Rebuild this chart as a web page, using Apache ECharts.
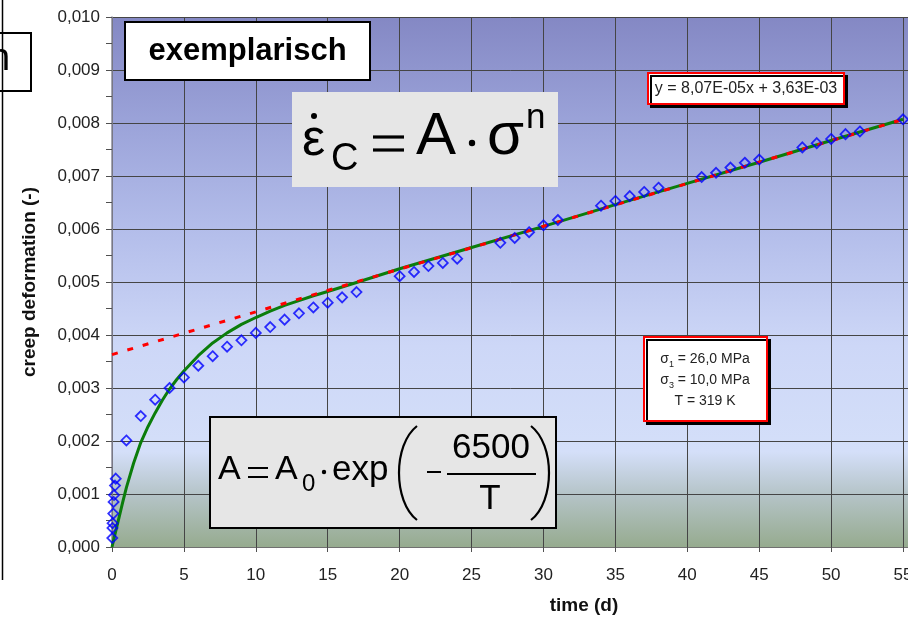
<!DOCTYPE html>
<html>
<head>
<meta charset="utf-8">
<script src="https://cdn.jsdelivr.net/npm/echarts@6/dist/echarts.min.js"></script>
<style>
  html, body { margin: 0; padding: 0; background: #ffffff; }
  #chart { width: 922px; height: 622px; }
</style>
</head>
<body>
<div id="chart"></div>
<script>
// Measured creep deformation over time (days)
const timeDays = [0.02, 0.03, 0.04, 0.09, 0.11, 0.14, 0.21, 0.26,
  1, 2, 3, 4, 5, 6, 7, 8, 9, 10, 11, 12, 13, 14, 15, 16, 17,
  20, 21, 22, 23, 24, 27, 28, 29, 30, 31, 34, 35, 36, 37, 38,
  41, 42, 43, 44, 45, 48, 49, 50, 51, 52, 55];
const creepStrain = [0.00017, 0.00036, 0.00045, 0.00063, 0.00085, 0.00098, 0.00116, 0.00129,
  0.00201, 0.00247, 0.00278, 0.00300, 0.00320, 0.00342, 0.00360, 0.00378, 0.00390, 0.00404,
  0.00415, 0.00429, 0.00441, 0.00452, 0.00461, 0.00471, 0.00481,
  0.00511, 0.00519, 0.00530, 0.00536, 0.00544, 0.00574, 0.00583, 0.00594, 0.00607, 0.00617,
  0.00644, 0.00653, 0.00662, 0.00670, 0.00678, 0.00698, 0.00706, 0.00716, 0.00725, 0.00731,
  0.00754, 0.00762, 0.00770, 0.00779, 0.00784, 0.00807];

// Model curve (green)
const modelTime = [0, 0.25, 0.5, 0.75, 1, 1.5, 2, 2.5, 3, 3.5, 4, 4.5, 5, 6, 7, 8, 9, 10, 11, 12,
  13, 14, 15, 17, 20, 25, 30, 35, 40, 45, 50, 55];
const modelStrain = [0, 0.00029, 0.00057, 0.00085, 0.00112, 0.00158, 0.00197, 0.00227, 0.00253,
  0.00277, 0.00298, 0.00316, 0.00332, 0.00361, 0.00385, 0.00404, 0.00420, 0.00433, 0.00445,
  0.00456, 0.00465, 0.00474, 0.00482, 0.00499, 0.00525, 0.00565, 0.00605, 0.00646, 0.00686,
  0.00726, 0.00767, 0.00807];

// Linear trend of the secondary creep stage: y = 8,07E-05x + 3,63E-03
const trendSlope = 8.07e-5;
const trendIntercept = 3.63e-3;
const trendTime = [0, 55];

// Axis settings
const xTickStep = 5;
const yTickStep = 0.001;
const yMax = 0.010;

const FONT = '"Liberation Sans", Arial, Helvetica, sans-serif';

const chart = echarts.init(document.getElementById('chart'), null, { renderer: 'canvas' });

function txt(x, y, text, size, extra) {
  const st = Object.assign({
    text: text,
    fontSize: size,
    fontFamily: FONT,
    fill: '#000',
    align: 'left', textAlign: 'left',
    verticalAlign: 'middle', textVerticalAlign: 'middle'
  }, extra || {});
  return { type: 'text', x: x, y: y, z: 100, style: st };
}
function ln(x1, y1, x2, y2, w, color) {
  return { type: 'line', z: 100, shape: { x1: x1, y1: y1, x2: x2, y2: y2 },
    style: { stroke: color || '#000', lineWidth: w } };
}
function box(x, y, w, h, style) {
  return { type: 'rect', z: 90, shape: { x: x, y: y, width: w, height: h }, style: style };
}
function dot(cx, cy, r) {
  return { type: 'circle', z: 100, shape: { cx: cx, cy: cy, r: r }, style: { fill: '#000' } };
}
function paren(x1, y1, x2, y2, cpx) {
  return { type: 'bezierCurve', z: 100,
    shape: { x1: x1, y1: y1, x2: x2, y2: y2, cpx1: cpx, cpy1: y1 + (y2 - y1) * 0.2, cpx2: cpx, cpy2: y1 + (y2 - y1) * 0.8 },
    style: { stroke: '#000', lineWidth: 2.2, fill: null } };
}

const plotBg = new echarts.graphic.LinearGradient(0, 0, 0, 1, [
  { offset: 0, color: '#8488c4' },
  { offset: 0.2, color: '#9ba3d9' },
  { offset: 0.4, color: '#b3bdea' },
  { offset: 0.62, color: '#cdd7f7' },
  { offset: 0.82, color: '#d4dff9' },
  { offset: 0.9, color: '#b5c4c8' },
  { offset: 1, color: '#96ab8f' }
]);

const graphics = [
  // frame line and cut-off box on the far left
  ln(2.5, 0, 2.5, 580, 1.5, '#000'),
  box(-3, 33, 34, 58, { fill: '#fff', stroke: '#000', lineWidth: 2 }),
  txt(-11, 60, 'n', 38),

  // "exemplarisch" label
  box(125, 22, 245, 58, { fill: '#fff', stroke: '#000', lineWidth: 2 }),
  txt(247.5, 51, 'exemplarisch', 31, { fontWeight: 'bold', align: 'center', textAlign: 'center' }),

  // creep law: eps_dot_C = A * sigma^n
  box(292, 92, 266, 95, { fill: '#e6e6e6', stroke: null }),
  txt(302, 141, 'ε', 52),
  dot(314, 116, 3),
  txt(331, 160, 'C', 38),
  ln(373, 137, 404, 137, 3.2),
  ln(373, 150, 404, 150, 3.2),
  txt(416, 137, 'A', 60),
  dot(472, 143, 3.2),
  txt(487, 137, 'σ', 60),
  txt(526, 118, 'n', 35),

  // temperature dependence: A = A0 * exp(-6500/T)
  box(210, 417, 346, 111, { fill: '#e6e6e6', stroke: '#000', lineWidth: 2 }),
  txt(218, 470, 'A', 34),
  ln(248, 468, 268, 468, 2),
  ln(248, 477, 268, 477, 2),
  txt(275, 470, 'A', 34),
  txt(302, 484, '0', 24),
  dot(324, 472, 2.2),
  txt(332, 470, 'exp', 35),
  paren(417, 426, 417, 520, 393),
  paren(531, 426, 531, 520, 555),
  ln(427, 472, 441, 472, 2),
  txt(491, 448, '6500', 35, { align: 'center', textAlign: 'center' }),
  ln(447, 474, 536, 474, 2),
  txt(490, 499, 'T', 35, { align: 'center', textAlign: 'center' }),

  // trend line equation
  box(648, 73, 196, 31, { fill: '#fff', stroke: '#ff0000', lineWidth: 2,
    shadowColor: '#000', shadowOffsetX: 3, shadowOffsetY: 3, shadowBlur: 0 }),
  txt(746, 89, 'y = 8,07E-05x + 3,63E-03', 16, { fill: '#222', align: 'center', textAlign: 'center' }),

  // test conditions
  box(644, 337, 123, 84, { fill: '#fff', stroke: '#ff0000', lineWidth: 2,
    shadowColor: '#000', shadowOffsetX: 3, shadowOffsetY: 3, shadowBlur: 0 }),
  {
    type: 'text', x: 705, y: 380, z: 100,
    style: {
      text: '{t|σ}{sub|1}{t| = 26,0 MPa}\n{t|σ}{sub|3}{t| = 10,0 MPa}\n{t|T = 319 K}',
      align: 'center', textAlign: 'center', verticalAlign: 'middle', textVerticalAlign: 'middle',
      fontFamily: FONT, fontSize: 14, fill: '#222',
      rich: {
        t: { fontSize: 14, lineHeight: 21, fontFamily: FONT, fill: '#222' },
        sub: { fontSize: 9, lineHeight: 14, verticalAlign: 'bottom', fontFamily: FONT, fill: '#222' }
      }
    }
  },

  // axis titles
  txt(584, 606, 'time (d)', 19, { fontWeight: 'bold', fill: '#111', align: 'center', textAlign: 'center' }),
  { type: 'text', x: 30, y: 282, rotation: Math.PI / 2, z: 100,
    style: { text: 'creep deformation (-)', fontSize: 19, fontWeight: 'bold', fontFamily: FONT, fill: '#111',
      align: 'center', textAlign: 'center', verticalAlign: 'middle', textVerticalAlign: 'middle' } },

  // right margin of the page
  { type: 'rect', z: 200, shape: { x: 908, y: 0, width: 20, height: 622 }, style: { fill: '#fff' } }
];

const option = {
  animation: false,
  backgroundColor: '#ffffff',
  grid: {
    left: 112, top: 17, right: 13.5, bottom: 75,
    show: true, backgroundColor: plotBg, borderWidth: 0
  },
  xAxis: {
    type: 'value', min: 0, max: 55.38, interval: xTickStep,
    axisLine: { show: true, onZero: false, lineStyle: { color: '#707070', width: 1 } },
    axisTick: { show: true, inside: false, length: 5, lineStyle: { color: '#505050' } },
    axisLabel: {
      margin: 20, fontSize: 17, color: '#222', fontFamily: FONT,
      showMinLabel: true, showMaxLabel: true,
      formatter: v => (Math.abs(v / xTickStep - Math.round(v / xTickStep)) < 1e-6 ? String(Math.round(v)) : '')
    },
    splitLine: { show: true, lineStyle: { color: '#454545', width: 1 } }
  },
  yAxis: {
    type: 'value', min: 0, max: yMax, interval: yTickStep,
    axisLine: { show: true, onZero: false, lineStyle: { color: '#8a8a9a', width: 1.5 } },
    axisTick: { show: true, inside: false, length: 6, lineStyle: { color: '#505050' } },
    minorTick: { show: true, splitNumber: 2, length: 6, lineStyle: { color: '#505050' } },
    axisLabel: {
      margin: 12, fontSize: 17, color: '#222', fontFamily: FONT,
      formatter: v => v.toFixed(3).replace('.', ',')
    },
    splitLine: { show: true, lineStyle: { color: '#454545', width: 1 } }
  },
  series: [
    {
      name: 'model', type: 'line', z: 2,
      data: modelTime.map((t, i) => [t, modelStrain[i]]),
      showSymbol: false, smooth: false,
      lineStyle: { color: '#0b7d0b', width: 3, join: 'round' }
    },
    {
      name: 'trend', type: 'line', z: 3,
      data: trendTime.map(t => [t, trendIntercept + trendSlope * t]),
      showSymbol: false,
      lineStyle: { color: '#ff0000', width: 3, type: [6, 10] }
    },
    {
      name: 'measured', type: 'scatter', z: 4,
      data: timeDays.map((t, i) => [t, creepStrain[i]]),
      symbol: 'diamond', symbolSize: [10, 10],
      itemStyle: { color: 'rgba(0,0,0,0)', borderColor: '#0000ff', borderWidth: 1.8 }
    }
  ],
  graphic: graphics
};

chart.setOption(option);
</script>
</body>
</html>
